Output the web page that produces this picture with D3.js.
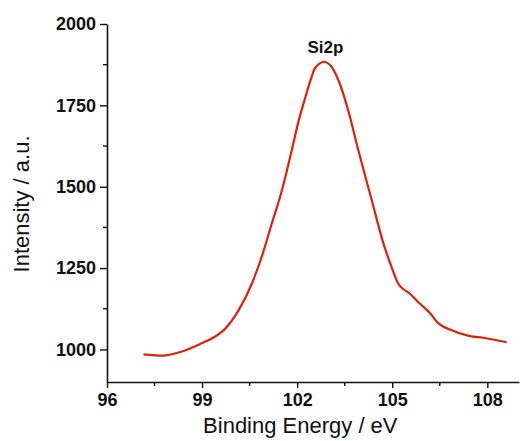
<!DOCTYPE html>
<html>
<head>
<meta charset="utf-8">
<script src="https://cdn.jsdelivr.net/npm/d3@7"></script>
<style>
  body { margin: 0; background: #fff; }
  text { font-family: "Liberation Sans", Arial, sans-serif; }
</style>
</head>
<body>
<div id="chart"></div>
<script>
// XPS Si2p spectrum

var energy = [97.15, 97.78, 98.31, 98.94, 99.57, 99.73, 100.15, 100.57, 100.88,
              101.20, 101.52, 101.83, 102.04, 102.25, 102.46, 102.56, 102.86, 103.04,
              103.30, 103.61, 103.93, 104.35, 104.71, 104.98, 105.19, 105.56,
              105.87, 106.19, 106.45, 106.82, 107.45, 107.87, 108.61];
var intensity = [985, 981, 992, 1017, 1050, 1064, 1120, 1202, 1284,
                 1387, 1489, 1612, 1700, 1772, 1838, 1864, 1884, 1874,
                 1828, 1735, 1612, 1460, 1330, 1253, 1202, 1171,
                 1141, 1112, 1081, 1061, 1041, 1036, 1022];

var xTicks = [96, 99, 102, 105, 108];
var xMinor = [97.5, 100.5, 103.5, 106.5];
var yTicks = [1000, 1250, 1500, 1750, 2000];
var yMinor = [1125, 1375, 1625, 1875];

var peakLabel = "Si2p";

var margin = {top: 24, right: 2, bottom: 59, left: 107};
var width = 521 - margin.left - margin.right,
    height = 441 - margin.top - margin.bottom;

var svg = d3.select("#chart").append("svg")
    .attr("width", 521)
    .attr("height", 441)
    .append("g")
    .attr("transform", "translate(" + margin.left + "," + margin.top + ")");

var x = d3.scaleLinear().domain([96, 109.0]).range([0, width]);
var y = d3.scaleLinear().domain([900, 2000]).range([height, 0]);

var data = energy.map(function(e, i) { return {e: e, v: intensity[i]}; });

// axes
var xAxis = d3.axisBottom(x).tickValues(xTicks).tickFormat(d3.format("d"))
    .tickSize(6).tickSizeOuter(0).tickPadding(5);
var yAxis = d3.axisLeft(y).tickValues(yTicks).tickFormat(d3.format("d"))
    .tickSize(7).tickSizeOuter(0).tickPadding(4);

var gx = svg.append("g")
    .attr("transform", "translate(0," + height + ")")
    .call(xAxis);

var gy = svg.append("g").call(yAxis);

[gx, gy].forEach(function(g) {
    g.select(".domain").attr("stroke", "#111").attr("stroke-width", 1.6);
    g.selectAll(".tick line").attr("stroke", "#111").attr("stroke-width", 1.4);
    g.selectAll(".tick text")
        .attr("fill", "#111")
        .style("font-size", "18px")
        .style("font-weight", "bold")
        .style("font-family", "'Liberation Sans', Arial, sans-serif");
});

// minor ticks
svg.selectAll(".xminor").data(xMinor).enter().append("line")
    .attr("x1", function(d) { return x(d); })
    .attr("x2", function(d) { return x(d); })
    .attr("y1", height)
    .attr("y2", height + 4)
    .attr("stroke", "#111").attr("stroke-width", 1.4);

svg.selectAll(".yminor").data(yMinor).enter().append("line")
    .attr("x1", 0)
    .attr("x2", -4)
    .attr("y1", function(d) { return y(d); })
    .attr("y2", function(d) { return y(d); })
    .attr("stroke", "#111").attr("stroke-width", 1.4);

// spectrum
var line = d3.line()
    .x(function(d) { return x(d.e); })
    .y(function(d) { return y(d.v); })
    .curve(d3.curveMonotoneX);

svg.append("path")
    .datum(data)
    .attr("fill", "none")
    .attr("stroke", "#e0200c")
    .attr("stroke-width", 2.2)
    .attr("d", line);

// peak label
var peak = data.reduce(function(a, b) { return b.v > a.v ? b : a; });
svg.append("text")
    .attr("x", x(peak.e) + 1)
    .attr("y", y(peak.v) - 9)
    .attr("text-anchor", "middle")
    .style("font-size", "17px")
    .style("font-weight", "bold")
    .attr("fill", "#111")
    .text(peakLabel);

// axis titles
svg.append("text")
    .attr("x", x(102.1))
    .attr("y", height + 51)
    .attr("text-anchor", "middle")
    .style("font-size", "22px")
    .attr("fill", "#111")
    .text("Binding Energy / eV");

svg.append("text")
    .attr("transform", "rotate(-90)")
    .attr("x", -(y(1447)))
    .attr("y", -78)
    .attr("text-anchor", "middle")
    .style("font-size", "22px")
    .attr("fill", "#111")
    .text("Intensity / a.u.");
</script>
</body>
</html>
